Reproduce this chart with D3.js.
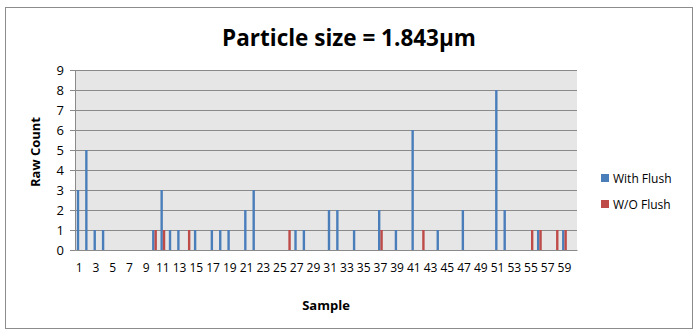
<!DOCTYPE html>
<html>
<head>
<meta charset="utf-8">
<script src="https://cdn.jsdelivr.net/npm/d3@7"></script>
<style>
  html, body { margin: 0; padding: 0; background: #fff; }
  svg { display: block; font-family: "Open Sans", "Liberation Sans", sans-serif; }
</style>
</head>
<body>
<div id="chart"></div>
<script>
// 60 samples, only non-zero counts listed
const samples = d3.range(1, 61);
const withFlush = { 1: 3, 2: 5, 3: 1, 4: 1, 10: 1, 11: 3, 12: 1, 13: 1, 15: 1, 17: 1, 18: 1, 19: 1,
    21: 2, 22: 3, 27: 1, 28: 1, 31: 2, 32: 2, 34: 1, 37: 2, 39: 1, 41: 6, 44: 1, 47: 2,
    51: 8, 52: 2, 56: 1, 59: 1 };
const withoutFlush = { 10: 1, 11: 1, 14: 1, 26: 1, 37: 1, 42: 1, 55: 1, 56: 1, 58: 1, 59: 1 };
const seriesNames = ["With Flush", "W/O Flush"];
const colors = ["#4a7ebb", "#be4b48"];
const yTicks = d3.range(0, 10);
const xTickLabels = samples.filter(d => d % 2 === 1);

const data = samples.map(s => ({
    sample: s,
    values: [withFlush[s] || 0, withoutFlush[s] || 0]
}));

const width = 699, height = 335;
const margin = { top: 70, right: 122, bottom: 85, left: 75 };

const svg = d3.select("#chart").append("svg")
    .attr("width", width)
    .attr("height", height);

// outer chart frame
svg.append("rect")
    .attr("x", 5.5).attr("y", 7.5)
    .attr("width", 687).attr("height", 321)
    .attr("fill", "#fff")
    .attr("stroke", "#8c8c8c")
    .attr("stroke-width", 1);

const x = d3.scaleBand()
    .domain(samples)
    .range([margin.left, width - margin.right])
    .padding(0);

const x1 = d3.scaleBand()
    .domain([0, 1])
    .range([0, x.bandwidth()])
    .paddingInner(0)
    .paddingOuter(0.75);

const y = d3.scaleLinear()
    .domain([0, 9])
    .range([height - margin.bottom, margin.top]);

// plot background
svg.append("rect")
    .attr("x", margin.left)
    .attr("y", margin.top)
    .attr("width", width - margin.left - margin.right)
    .attr("height", height - margin.top - margin.bottom)
    .attr("fill", "#e6e6e6");

// gridlines
svg.append("g")
    .selectAll("line")
    .data(yTicks.filter(d => d > 0))
    .join("line")
    .attr("x1", margin.left)
    .attr("x2", width - margin.right)
    .attr("y1", d => Math.round(y(d)) + 0.5)
    .attr("y2", d => Math.round(y(d)) + 0.5)
    .attr("stroke", "#8a8a8a")
    .attr("stroke-width", 1);

// bars
const groups = svg.append("g")
    .selectAll("g")
    .data(data)
    .join("g")
    .attr("transform", d => `translate(${x(d.sample)},0)`);

groups.selectAll("rect")
    .data(d => d.values.map((v, i) => ({ v, i })).filter(e => e.v > 0))
    .join("rect")
    .attr("x", d => x1(d.i))
    .attr("width", x1.bandwidth())
    .attr("y", d => y(d.v))
    .attr("height", d => y(0) - y(d.v))
    .attr("fill", d => colors[d.i]);

// y axis
const yAxis = d3.axisLeft(y).tickValues(yTicks).tickSize(5).tickPadding(6);
svg.append("g")
    .attr("transform", `translate(${margin.left},0)`)
    .call(yAxis)
    .call(g => g.select(".domain").attr("stroke", "#8a8a8a"))
    .call(g => g.selectAll(".tick line").attr("stroke", "#8a8a8a"))
    .call(g => g.selectAll(".tick text")
        .attr("font-size", 13)
        .attr("font-family", "Open Sans, sans-serif")
        .attr("fill", "#000"));

// x axis
const xAxis = d3.axisBottom(x).tickValues(xTickLabels).tickSize(0).tickPadding(13);
svg.append("g")
    .attr("transform", `translate(0,${height - margin.bottom})`)
    .call(xAxis)
    .call(g => g.select(".domain").attr("stroke", "#8a8a8a"))
    .call(g => g.selectAll(".tick text")
        .attr("font-size", 12)
        .attr("font-family", "Liberation Sans Narrow, Open Sans, sans-serif")
        .attr("fill", "#000"));

// title
const title = svg.append("text")
    .attr("x", 349)
    .attr("y", 46)
    .attr("text-anchor", "middle")
    .attr("font-size", 24)
    .attr("font-weight", "bold")
    .attr("fill", "#000")
    .text("Particle size = 1.843µm");
const tw = title.node().getComputedTextLength();
if (tw > 0) title.attr("font-size", 24 * 254 / tw);

// axis titles
svg.append("text")
    .attr("transform", `translate(40,${(margin.top + height - margin.bottom) / 2 - 8}) rotate(-90)`)
    .attr("text-anchor", "middle")
    .attr("font-size", 13)
    .attr("font-weight", "bold")
    .text("Raw Count");

svg.append("text")
    .attr("x", (margin.left + width - margin.right) / 2)
    .attr("y", 310)
    .attr("text-anchor", "middle")
    .attr("font-size", 13)
    .attr("font-weight", "bold")
    .text("Sample");

// legend
const legend = svg.append("g")
    .selectAll("g")
    .data(seriesNames)
    .join("g")
    .attr("transform", (d, i) => `translate(601,${178 + i * 26})`);

legend.append("rect")
    .attr("x", 0).attr("y", -4)
    .attr("width", 8).attr("height", 8)
    .attr("fill", (d, i) => colors[i]);

legend.append("text")
    .attr("x", 12)
    .attr("y", 4.5)
    .attr("font-size", 12)
    .text(d => d);
</script>
</body>
</html>
